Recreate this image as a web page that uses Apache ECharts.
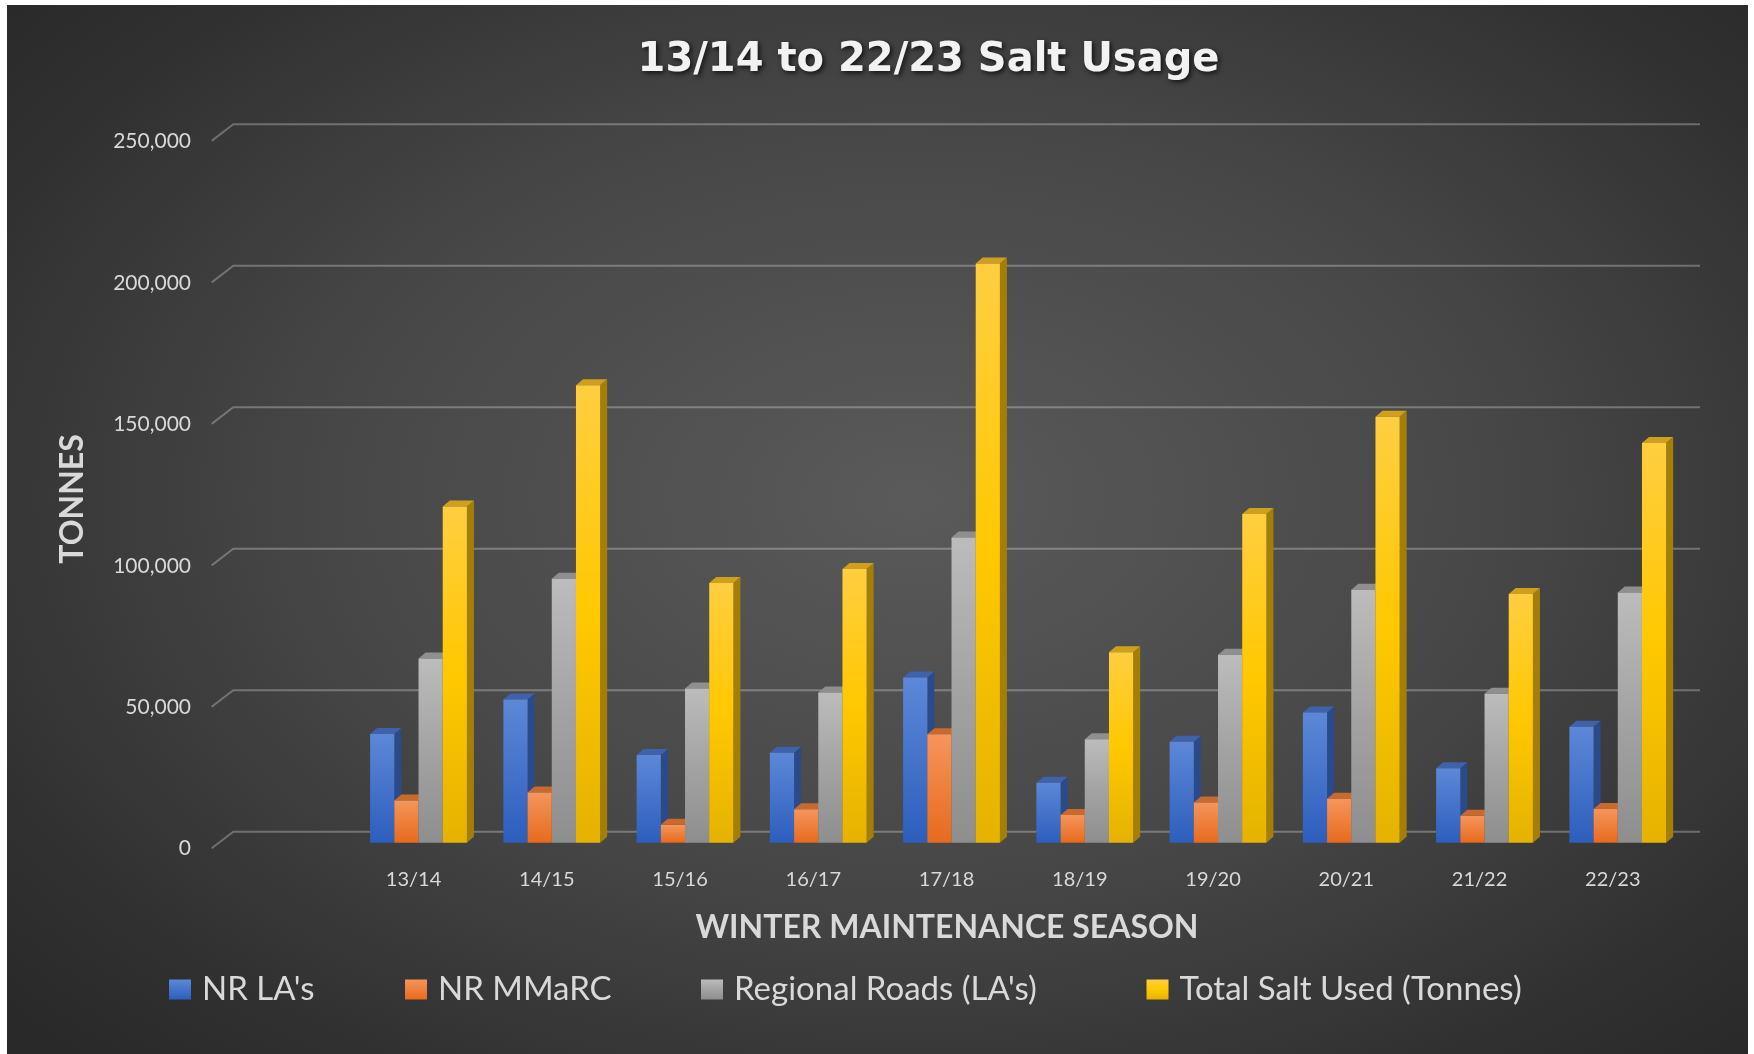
<!DOCTYPE html>
<html>
<head>
<meta charset="utf-8">
<script src="https://cdn.jsdelivr.net/npm/echarts@6/dist/echarts.min.js"></script>
<style>
html, body { margin: 0; padding: 0; background: #ffffff; width: 1754px; height: 1054px; overflow: hidden; }
#chart {
  position: absolute; left: 7px; top: 5px; width: 1741px; height: 1049px;
  background: radial-gradient(ellipse 75% 80% at 52% 47%, #5a5a5a 0%, #474747 45%, #2f2f2f 80%, #262626 100%);
}
</style>
</head>
<body>
<div id="chart"></div>
<script>
const seasons = ['13/14', '14/15', '15/16', '16/17', '17/18', '18/19', '19/20', '20/21', '21/22', '22/23'];
const nrLAs = [38400, 50600, 31000, 31800, 58400, 21200, 35700, 46000, 26300, 41000];
const nrMMaRC = [14900, 17700, 6300, 11800, 38300, 9800, 14200, 15500, 9500, 11900];
const regionalRoads = [65100, 93300, 54500, 53100, 107900, 36600, 66400, 89400, 52600, 88400];
const totalSalt = [118800, 161700, 91800, 96700, 204700, 67300, 116200, 150500, 87900, 141300];
const yTicks = [0, 50000, 100000, 150000, 200000, 250000];
const seriesNames = ["NR LA's", "NR MMaRC", "Regional Roads (LA's)", "Total Salt Used (Tonnes)"];

const chart = echarts.init(document.getElementById('chart'), null, { renderer: 'canvas' });

function vgrad(c1, c2, c3) {
  const stops = c3 ? [{offset: 0, color: c1}, {offset: 0.5, color: c2}, {offset: 1, color: c3}]
                   : [{offset: 0, color: c1}, {offset: 1, color: c2}];
  return {type: 'linear', x: 0, y: 0, x2: 0, y2: 1, colorStops: stops};
}

const styles = [
  {front: vgrad('#5d88d8', '#2d5ebd'), side: '#2b4a8a', top: '#3f62aa'},
  {front: vgrad('#f5955c', '#e76a1d'), side: '#ad521a', top: '#c8692f'},
  {front: vgrad('#bcbcbc', '#a3a3a3', '#8e8e8e'), side: '#7a7a7a', top: '#8f8f8f'},
  {front: vgrad('#ffce40', '#ffc800', '#e5b300'), side: '#a47f08', top: '#cf9f1e'}
];
const seriesData = [nrLAs, nrMMaRC, regionalRoads, totalSalt];

const DX = 7, DY = 6;

function barSeries(k) {
  return {
    name: seriesNames[k],
    type: 'custom',
    itemStyle: {color: styles[k].front},
    data: seriesData[k].map((v, i) => [i, v]),
    encode: {x: 0, y: 1},
    z: 3,
    renderItem: function (params, api) {
      const ci = api.value(0), v = api.value(1);
      const topPt = api.coord([ci, v]);
      const basePt = api.coord([ci, 0]);
      const band = api.size([1, 0])[0];
      const bw = band * 0.1816;
      const x0 = topPt[0] - 2 * bw + k * bw;
      const yt = topPt[1], yb = basePt[1];
      return {
        type: 'group',
        children: [
          {type: 'polygon', shape: {points: [[x0 + bw, yt], [x0 + bw + DX, yt - DY], [x0 + bw + DX, yb - DY], [x0 + bw, yb]]},
           style: {fill: styles[k].side}},
          {type: 'polygon', shape: {points: [[x0, yt], [x0 + DX, yt - DY], [x0 + bw + DX, yt - DY], [x0 + bw, yt]]},
           style: {fill: styles[k].top}},
          {type: 'rect', shape: {x: x0, y: yt, width: bw, height: yb - yt},
           style: {fill: styles[k].front}}
        ]
      };
    }
  };
}

const gridSeries = {
  name: 'gridlines',
  type: 'custom',
  silent: true,
  z: 1,
  data: yTicks.map(v => [0, v]),
  encode: {x: 0, y: 1},
  renderItem: function (params, api) {
    const cs = params.coordSys;
    const y = api.coord([0, api.value(1)])[1];
    return {
      type: 'polyline',
      shape: {points: [[cs.x - 140.2, y + 5.6], [cs.x - 118.6, y - 11], [cs.x + cs.width + 15.6, y - 11]]},
      style: {stroke: 'rgba(255,255,255,0.28)', lineWidth: 2, fill: null}
    };
  }
};

const legendLefts = [162, 398, 694, 1139.5];
const legends = seriesNames.map((name, k) => ({
  data: [name],
  left: legendLefts[k], top: 968, padding: 0,
  itemWidth: 22, itemHeight: 20,
  icon: 'rect',
  textStyle: {color: '#d9d9d9', fontSize: 33, fontFamily: 'Lato', padding: [0, 0, 0, 6]}
}));

const option = {
  animation: false,
  backgroundColor: 'transparent',
  grid: {left: 344.9, right: 63.6, top: 130.3, bottom: 211.3, containLabel: false},
  xAxis: {
    type: 'category',
    data: seasons,
    boundaryGap: true,
    axisLine: {show: false},
    axisTick: {show: false},
    splitLine: {show: false},
    axisLabel: {color: '#d9d9d9', fontSize: 20, fontFamily: 'Lato', margin: 27, padding: [0, 10, 0, 0]}
  },
  yAxis: {
    type: 'value',
    min: 0, max: 250000, interval: 50000,
    axisLine: {show: false},
    axisTick: {show: false},
    splitLine: {show: false},
    axisLabel: {
      color: '#d9d9d9', fontSize: 21, fontFamily: 'Lato', margin: 160.9,
      verticalAlign: 'top', lineHeight: 12,
      formatter: v => v.toLocaleString('en-US')
    }
  },
  legend: legends,
  graphic: [
    {type: 'text', x: 921.5, y: 55.5, style: {text: '13/14 to 22/23 Salt Usage', align: 'center', verticalAlign: 'middle',
      font: 'bold 40px "DejaVu Sans"', fill: '#f2f2f2', textShadowColor: 'rgba(0,0,0,0.75)', textShadowBlur: 5, textShadowOffsetX: 2, textShadowOffsetY: 2}},
    {type: 'text', x: 65.5, y: 494, rotation: Math.PI / 2, style: {text: 'TONNES', align: 'center', verticalAlign: 'middle',
      font: 'bold 32px Lato', fill: '#d9d9d9'}},
    {type: 'text', x: 940, y: 923, style: {text: 'WINTER MAINTENANCE SEASON', align: 'center', verticalAlign: 'middle',
      font: 'bold 32px Lato', fill: '#d9d9d9'}}
  ],
  series: [gridSeries, barSeries(0), barSeries(1), barSeries(2), barSeries(3)]
};
chart.setOption(option);
</script>
</body>
</html>
